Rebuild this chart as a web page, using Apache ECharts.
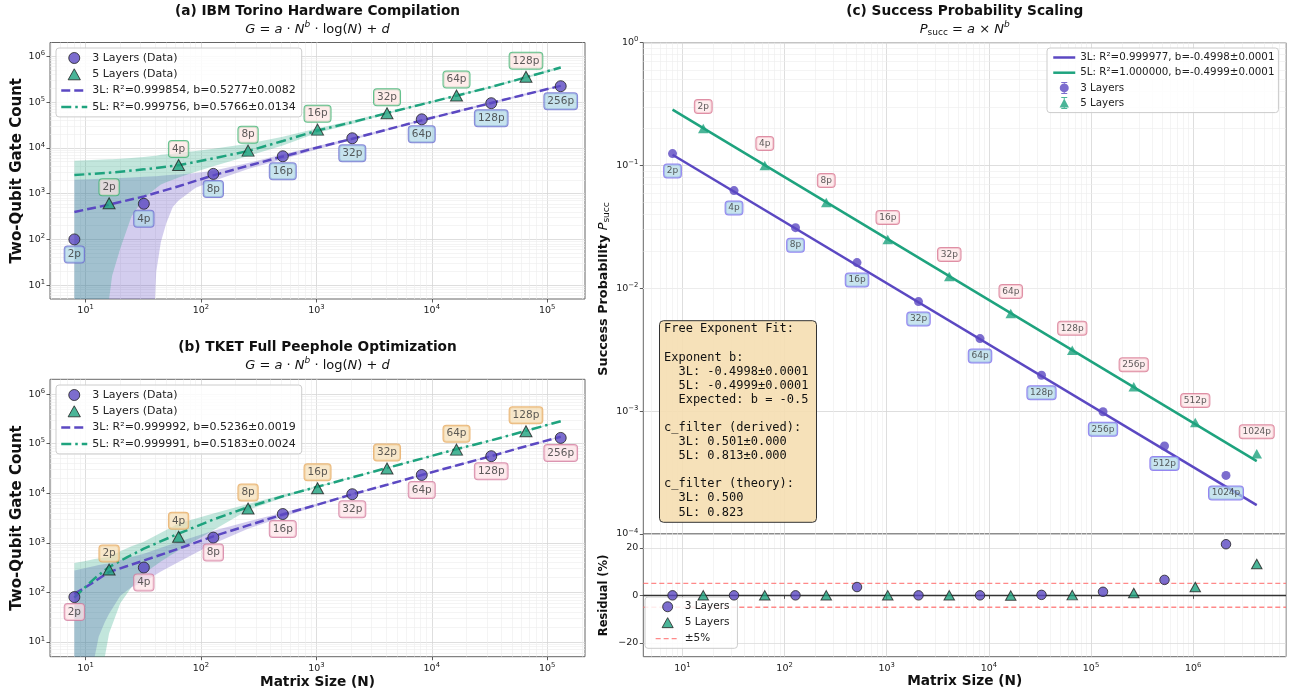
<!DOCTYPE html>
<html>
<head>
<meta charset="utf-8">
<title>Gate count and success probability scaling</title>
<script src="https://cdn.jsdelivr.net/npm/echarts@6/dist/echarts.min.js"></script>
<style>
  html, body { margin: 0; padding: 0; background: #fff; }
  #chart { width: 1293px; height: 693px; }
</style>
</head>
<body>
<div id="chart"></div>
<script>
// matrix sizes N and their qubit tags, panels (a) and (b)
const n3 = [8, 32, 128, 512, 2048, 8192, 32768, 131072];
const n5 = [16, 64, 256, 1024, 4096, 16384, 65536];
const tags3 = ['2p', '4p', '8p', '16p', '32p', '64p', '128p', '256p'];
const tags5 = ['2p', '4p', '8p', '16p', '32p', '64p', '128p'];

// (a) IBM Torino two-qubit gate counts
const torino3 = [100, 600, 2700, 6550, 16200, 42000, 94500, 222000];
const torino5 = [615, 4230, 8700, 25000, 57000, 139000, 356000];
const fitNa = [8, 16, 32, 64, 128, 256, 512, 1024, 2048, 4096, 8192, 16384, 32768, 65536, 131072];
const torinoFit3 = [398, 575, 870, 1450, 2510, 4070, 6460, 10200, 15800, 25100, 39800, 61700, 95500, 148000, 226000];
const torinoFit5 = [2550, 2860, 3390, 4170, 5890, 8510, 14100, 24000, 36300, 57500, 89100, 138000, 214000, 347000, 569000];
// confidence bands (5 = below the axis)
const bandNa = [8, 16, 17, 20, 25, 32, 40, 41, 45, 50, 57, 64, 90, 128, 256, 512, 1024, 2048, 4096, 8192, 16384, 32768, 65536, 131072];
const torinoHi3 = [2000, 2140, 2140, 2190, 2240, 2340, 2400, 2400, 2450, 2510, 2570, 2630, 2820, 3160, 4680, 7240, 11000, 16600, 26300, 41700, 64600, 100000, 155000, 234000];
const torinoLo3 = [5, 5, 5, 5, 5, 5, 5, 20, 89, 224, 513, 708, 1350, 1900, 3470, 5620, 9330, 14800, 24000, 38000, 58900, 91200, 141000, 219000];
const torinoHi5 = [5250, 5620, 5620, 5750, 6030, 6310, 6760, 6760, 7080, 7240, 7410, 7760, 8510, 9550, 12300, 17400, 26900, 39800, 60300, 93300, 145000, 224000, 363000, 603000];
const torinoLo5 = [5, 5, 16, 63, 316, 794, 1260, 1320, 1590, 1780, 2000, 2240, 3020, 3980, 6610, 11200, 21400, 33100, 55000, 85100, 132000, 204000, 331000, 537000];

// (b) TKET two-qubit gate counts
const tket3 = [80, 316, 1270, 3800, 9550, 23400, 56000, 131000];
const tket5 = [287, 1320, 4900, 12600, 31500, 76000, 178000];
const fitNb = [8, 10, 12, 16, 23, 32, 64, 128, 256, 512, 1024, 2048, 4096, 8192, 16384, 32768, 65536, 131072];
const tketFit3 = [93, 126, 166, 257, 339, 437, 759, 1350, 2240, 3720, 5890, 9550, 14800, 23400, 36300, 56200, 89100, 138000];
const tketFit5 = [78, 129, 191, 324, 513, 759, 1530, 2950, 5250, 8710, 13500, 20900, 32400, 50100, 77600, 117000, 182000, 285000];
const bandNb = [8, 10, 12, 13, 14.7, 16, 20, 25, 32, 45, 64, 128, 256, 512, 1024, 2048, 4096, 8192, 16384, 32768, 65536, 131072];
const tketHi3 = [275, 309, 339, 355, 372, 380, 447, 513, 603, 794, 1050, 1740, 2690, 4070, 6170, 9890, 15100, 24000, 37200, 57500, 91200, 141000];
const tketLo3 = [5, 5, 5, 12.6, 25, 37, 85, 126, 162, 263, 407, 955, 1910, 3310, 5620, 9230, 14500, 22900, 35500, 55000, 87100, 135000];
const tketHi5 = [389, 427, 468, 479, 501, 513, 676, 851, 1050, 1590, 2450, 3890, 6030, 9330, 14000, 21400, 33100, 51300, 79400, 120000, 186000, 292000];
const tketLo5 = [5, 5, 5, 5, 5, 14.8, 60, 126, 240, 417, 708, 1780, 4570, 8130, 13000, 20400, 31600, 49000, 75900, 115000, 178000, 279000];

// (c) success probability and residuals
const nC3 = [8, 32, 128, 512, 2048, 8192, 32768, 131072, 524288, 2097152];
const nC5 = [16, 64, 256, 1024, 4096, 16384, 65536, 262144, 1048576, 4194304];
const tagsC = ['2p', '4p', '8p', '16p', '32p', '64p', '128p', '256p', '512p', '1024p'];
const psucc3 = [0.125, 0.0625, 0.0312, 0.0162, 0.0078, 0.0039, 0.00196, 0.00099, 0.00052, 0.0003];
const psucc5 = [0.2, 0.1, 0.05, 0.025, 0.0125, 0.00625, 0.00313, 0.00158, 0.00081, 0.00045];
const fitNc = [8, 4194304];
const psuccFit3 = [0.1225, 0.000172];
const psuccFit5 = [0.285, 0.000392];
const resid3 = [0, 0, 0, 3.5, 0, 0, 0.2, 1.5, 6.5, 21.5];
const resid5 = [0, 0, 0, 0, 0, -0.1, 0.1, 1.0, 3.5, 13.2];

// tick labels
const ticksXab = [10, 100, 1000, 10000, 100000];
const ticksYab = [10, 100, 1000, 10000, 100000, 1000000];
const ticksXc = [10, 100, 1000, 10000, 100000, 1000000];
const ticksYc = [0.0001, 0.001, 0.01, 0.1, 1];
const ticksRes = [-20, 0, 20];

const fitA3 = '3L: R²=0.999854, b=0.5277±0.0082';
const fitA5 = '5L: R²=0.999756, b=0.5766±0.0134';
const fitB3 = '3L: R²=0.999992, b=0.5236±0.0019';
const fitB5 = '5L: R²=0.999991, b=0.5183±0.0024';
const fitC3 = '3L: R²=0.999977, b=-0.4998±0.0001';
const fitC5 = '5L: R²=1.000000, b=-0.4999±0.0001';

const boxText = [
  'Free Exponent Fit:', '',
  'Exponent b:',
  '  3L: -0.4998±0.0001',
  '  5L: -0.4999±0.0001',
  '  Expected: b = -0.5', '',
  'c_filter (derived):',
  '  3L: 0.501±0.000',
  '  5L: 0.813±0.000', '',
  'c_filter (theory):',
  '  3L: 0.500',
  '  5L: 0.823'
].join('\n');

const PURPLE = '#5b48c2';
const GREEN = '#1ea37e';
const xMinAB = 4.92, xMaxAB = 212800, yMinAB = 5, yMaxAB = 2e6;
const xMinC = 4.14, xMaxC = 8.11e6;

var chart = echarts.init(document.getElementById('chart'));

function zip(xs, ys, tags) {
  return xs.map(function (x, i) { return tags ? [x, ys[i], tags[i]] : [x, ys[i]]; });
}

function minorLog(lo, hi) {
  var out = [];
  for (var e = Math.floor(Math.log10(lo)); e <= Math.ceil(Math.log10(hi)); e++) {
    for (var k = 2; k <= 9; k++) {
      var v = k * Math.pow(10, e);
      if (v > lo && v < hi) out.push(v);
    }
  }
  return out;
}

function powLabel(v) {
  var e = Math.round(Math.log10(v));
  return '10{s|' + (e < 0 ? '−' + (-e) : e) + '}';
}
var powRich = { s: { fontSize: 6.8, color: '#222', padding: [0, 0, 6, 0] } };

function logAxis(gi, min, max, ticks, showLabel) {
  return {
    type: 'log', logBase: 10, gridIndex: gi, min: min, max: max,
    axisLine: { show: false },
    axisTick: { show: showLabel, customValues: ticks, length: 3.5, lineStyle: { color: '#333', width: 0.8 } },
    axisLabel: { show: showLabel, customValues: ticks, formatter: powLabel, fontSize: 9.5, color: '#222', margin: 5, rich: powRich },
    splitLine: { show: true, lineStyle: { color: '#d6d6d6', width: 0.8 } },
    minorTick: { show: false }, minorSplitLine: { show: false }
  };
}

function gridLines(gi, xs, ys, color, width, z) {
  return {
    type: 'line', xAxisIndex: gi, yAxisIndex: gi, data: [], symbol: 'none', silent: true, z: z || 1,
    markLine: {
      z: z || 1, silent: true, symbol: ['none', 'none'], animation: false, label: { show: false },
      lineStyle: { color: color, width: width, type: 'solid' },
      emphasis: { disabled: true },
      data: xs.map(function (v) { return { xAxis: v }; }).concat(ys.map(function (v) { return { yAxis: v }; }))
    }
  };
}

function band(gi, ns, hi, lo, color) {
  return {
    type: 'custom', xAxisIndex: gi, yAxisIndex: gi, silent: true, z: 2,
    data: [[ns[0], hi[0]]],
    renderItem: function (params, api) {
      var pts = [];
      for (var i = 0; i < ns.length; i++) pts.push(api.coord([ns[i], hi[i]]));
      for (var j = ns.length - 1; j >= 0; j--) pts.push(api.coord([ns[j], lo[j]]));
      return { type: 'polygon', shape: { points: pts }, style: { fill: color } };
    }
  };
}

function fitLine(gi, name, ns, vals, color, dash) {
  return {
    type: 'line', name: name, xAxisIndex: gi, yAxisIndex: gi, data: zip(ns, vals),
    symbol: 'none', silent: true, z: 4,
    itemStyle: { color: color },
    lineStyle: { color: color, width: 2.5, type: dash }
  };
}

function tag(dy, bg, border, size, pad) {
  return {
    show: true, position: 'inside', offset: [0, dy],
    formatter: function (p) { return p.data[2]; },
    fontSize: size, color: '#333', textBorderWidth: 0,
    backgroundColor: bg, borderColor: border, borderWidth: 1, borderRadius: 3, padding: pad
  };
}

function dots(gi, name, ns, vals, tags, symbol, size, color, edge, label) {
  return {
    type: 'scatter', name: name, xAxisIndex: gi, yAxisIndex: gi,
    data: zip(ns, vals, tags), symbol: symbol, symbolSize: size, silent: true, z: 10,
    itemStyle: edge ? { color: color, borderColor: '#222', borderWidth: 1 } : { color: color, borderWidth: 0 },
    label: label || { show: false }
  };
}

function gtext(x, y, text, font, extra) {
  return {
    type: 'text', x: x, y: y, z: 100, silent: true,
    style: Object.assign({ text: text, font: font, fill: '#111', align: 'center', verticalAlign: 'middle', textAlign: 'center', textVerticalAlign: 'middle' }, extra || {})
  };
}

var mathRich = {
  i: { fontStyle: 'italic', fontSize: 13, fontFamily: 'DejaVu Sans', fill: '#111' },
  p: { fontStyle: 'italic', fontSize: 9, fontFamily: 'DejaVu Sans', padding: [0, 0, 10, 0], fill: '#111' },
  q: { fontSize: 9, fontFamily: 'DejaVu Sans', padding: [6, 0, 0, 0], fill: '#111' }
};
var formulaG = '{i|G} = {i|a} · {i|N}{p|b} · log({i|N}) + {i|d}';
var formulaP = '{i|P}{q|succ} = {i|a} × {i|N}{p|b}';

var boldTitle = 'bold 13.7px "DejaVu Sans"';
var axisTitle = 'bold 15px "DejaVu Sans"';

// legend icons
var dotIcon = 'path://M0,5A5,5,0,1,1,10,5A5,5,0,1,1,0,5Z';
var triIcon = 'path://M5,0L10,9L0,9Z';
var errCircle = 'path://M2,0H8V1H5.5V11H8V12H2V11H4.5V1H2Z M0.5,6A4.5,4.5,0,1,1,9.5,6A4.5,4.5,0,1,1,0.5,6Z';
var errTriangle = 'path://M2,0H8V1H5.5V11H8V12H2V11H4.5V1H2Z M5,1.5L9.7,10.5L0.3,10.5Z';
var edged = { borderColor: '#222', borderWidth: 1 };

function legendBox(left, top, iw, ih, gap, pad, font, lh, z, data) {
  return {
    orient: 'vertical', left: left, top: top, itemWidth: iw, itemHeight: ih, itemGap: gap,
    padding: pad, selectedMode: false, symbolKeepAspect: true, z: z,
    backgroundColor: 'rgba(255,255,255,0.85)', borderColor: '#cccccc', borderWidth: 1, borderRadius: 3,
    textStyle: { fontSize: font, lineHeight: lh, color: '#222' },
    data: data
  };
}

var gridBase = { show: true, borderColor: '#666', borderWidth: 1, backgroundColor: 'transparent', containLabel: false, outerBoundsMode: 'none' };

var option = {
  animation: false,
  textStyle: { fontFamily: 'DejaVu Sans' },
  grid: [
    Object.assign({ left: 50, top: 42.5, width: 535, height: 256.5 }, gridBase),
    Object.assign({ left: 50, top: 379.3, width: 535, height: 277.4 }, gridBase),
    Object.assign({ left: 643.3, top: 42.7, width: 642.7, height: 491.3 }, gridBase),
    Object.assign({ left: 643.3, top: 534, width: 642.7, height: 122.7 }, gridBase)
  ],
  xAxis: [
    logAxis(0, xMinAB, xMaxAB, ticksXab, true),
    logAxis(1, xMinAB, xMaxAB, ticksXab, true),
    logAxis(2, xMinC, xMaxC, ticksXc, false),
    logAxis(3, xMinC, xMaxC, ticksXc, true)
  ],
  yAxis: [
    logAxis(0, yMinAB, yMaxAB, ticksYab, true),
    logAxis(1, yMinAB, yMaxAB, ticksYab, true),
    logAxis(2, 1e-4, 1, ticksYc, true),
    {
      type: 'value', gridIndex: 3, min: -25.8, max: 25.8,
      axisLine: { show: false },
      axisTick: { show: true, customValues: ticksRes, length: 3.5, lineStyle: { color: '#333', width: 0.8 } },
      axisLabel: { customValues: ticksRes, fontSize: 9.5, color: '#222', margin: 5,
        formatter: function (v) { return v < 0 ? '−' + (-v) : String(v); } },
      splitLine: { show: false }
    }
  ],
  legend: [
    legendBox(56, 48, 26, 11, 2.3, [3, 6, 3, 4], 11, 14, 20, [
      { name: '3 Layers (Data)', icon: dotIcon, itemStyle: edged },
      { name: '5 Layers (Data)', icon: triIcon, itemStyle: edged },
      { name: fitA3, itemStyle: { opacity: 0 }, lineStyle: { width: 2.5 } },
      { name: fitA5, itemStyle: { opacity: 0 }, lineStyle: { width: 2.5 } }
    ]),
    legendBox(56, 385, 26, 11, 2.3, [3, 6, 3, 4], 11, 14, 20, [
      { name: '3 Layers (Data)', icon: dotIcon, itemStyle: edged },
      { name: '5 Layers (Data)', icon: triIcon, itemStyle: edged },
      { name: fitB3, itemStyle: { opacity: 0 }, lineStyle: { width: 2.5 } },
      { name: fitB5, itemStyle: { opacity: 0 }, lineStyle: { width: 2.5 } }
    ]),
    legendBox(1047, 48, 22, 12, 2.2, [3, 4, 3, 5], 10.3, 13, 20, [
      { name: fitC3, itemStyle: { opacity: 0 }, lineStyle: { width: 2.5 } },
      { name: fitC5, itemStyle: { opacity: 0 }, lineStyle: { width: 2.5 } },
      { name: '3 Layers', icon: errCircle },
      { name: '5 Layers', icon: errTriangle }
    ]),
    // sits above the ±5% lines but under the residual markers
    legendBox(645, 597, 24, 10, 2.4, [3, 8, 3, 10], 10.5, 13.5, 6, [
      { name: '3 Layers', icon: dotIcon, itemStyle: edged },
      { name: '5 Layers', icon: triIcon, itemStyle: edged },
      { name: '±5%', itemStyle: { opacity: 0 }, lineStyle: { width: 1.3 } }
    ])
  ],
  graphic: [
    gtext(317.5, 11, '(a) IBM Torino Hardware Compilation', boldTitle),
    gtext(317.5, 30, formulaG, '13px "DejaVu Sans"', { rich: mathRich }),
    gtext(317.5, 347.3, '(b) TKET Full Peephole Optimization', boldTitle),
    gtext(317.5, 366, formulaG, '13px "DejaVu Sans"', { rich: mathRich }),
    gtext(964.7, 11, '(c) Success Probability Scaling', boldTitle),
    gtext(964.7, 29.3, formulaP, '13px "DejaVu Sans"', { rich: mathRich }),
    Object.assign(gtext(17.3, 170.75, 'Two-Qubit Gate Count', axisTitle), { rotation: Math.PI / 2 }),
    Object.assign(gtext(17.3, 518, 'Two-Qubit Gate Count', axisTitle), { rotation: Math.PI / 2 }),
    Object.assign(gtext(604, 289, 'Success Probability {i|P}{q|succ}', 'bold 12.8px "DejaVu Sans"', {
      rich: {
        i: { fontStyle: 'italic', fontWeight: 'normal', fontSize: 12.8, fontFamily: 'DejaVu Sans', fill: '#111' },
        q: { fontWeight: 'normal', fontSize: 9, fontFamily: 'DejaVu Sans', padding: [6, 0, 0, 0], fill: '#111' }
      }
    }), { rotation: Math.PI / 2 }),
    Object.assign(gtext(604, 595.4, 'Residual (%)', 'bold 11.5px "DejaVu Sans"'), { rotation: Math.PI / 2 }),
    gtext(317.5, 682, 'Matrix Size (N)', 'bold 13.7px "DejaVu Sans"'),
    gtext(964.7, 681.7, 'Matrix Size (N)', 'bold 13.7px "DejaVu Sans"'),
    {
      type: 'rect', z: 90, silent: true,
      shape: { x: 659.5, y: 320.7, width: 157, height: 201.6, r: 4 },
      style: { fill: 'rgba(245,222,179,0.92)', stroke: '#333', lineWidth: 1 }
    },
    {
      type: 'text', z: 91, silent: true, x: 664, y: 322.3,
      style: { text: boxText, font: '12px "DejaVu Sans Mono"', fill: '#111', lineHeight: 14.08,
        align: 'left', verticalAlign: 'top', textAlign: 'left', textVerticalAlign: 'top' }
    }
  ],
  series: [
    // (a)
    gridLines(0, minorLog(xMinAB, xMaxAB), minorLog(yMinAB, yMaxAB), '#ededed', 0.6),
    band(0, bandNa, torinoHi3, torinoLo3, 'rgba(91,72,194,0.27)'),
    band(0, bandNa, torinoHi5, torinoLo5, 'rgba(30,163,126,0.27)'),
    fitLine(0, fitA3, fitNa, torinoFit3, PURPLE, [9, 4]),
    fitLine(0, fitA5, fitNa, torinoFit5, GREEN, [10, 4, 2.5, 4]),
    dots(0, '3 Layers (Data)', n3, torino3, tags3, 'circle', 11, PURPLE, true,
      tag(15, 'rgba(173,216,230,0.85)', '#6a6ad0', 10.5, [2.5, 3])),
    dots(0, '5 Layers (Data)', n5, torino5, tags5, 'triangle', [12, 11], GREEN, true,
      tag(-16, 'rgba(255,228,225,0.85)', '#3cb371', 10.5, [2.5, 3])),
    // (b)
    gridLines(1, minorLog(xMinAB, xMaxAB), minorLog(yMinAB, yMaxAB), '#ededed', 0.6),
    band(1, bandNb, tketHi3, tketLo3, 'rgba(91,72,194,0.27)'),
    band(1, bandNb, tketHi5, tketLo5, 'rgba(30,163,126,0.27)'),
    fitLine(1, fitB3, fitNb, tketFit3, PURPLE, [9, 4]),
    fitLine(1, fitB5, fitNb, tketFit5, GREEN, [10, 4, 2.5, 4]),
    dots(1, '3 Layers (Data)', n3, tket3, tags3, 'circle', 11, PURPLE, true,
      tag(15, 'rgba(253,226,230,0.85)', '#d27a9e', 10.5, [2.5, 3])),
    dots(1, '5 Layers (Data)', n5, tket5, tags5, 'triangle', [12, 11], GREEN, true,
      tag(-16, 'rgba(245,222,179,0.85)', '#e6a85c', 10.5, [2.5, 3])),
    // (c)
    gridLines(2, minorLog(xMinC, xMaxC), minorLog(1e-4, 1), '#ededed', 0.6),
    fitLine(2, fitC3, fitNc, psuccFit3, PURPLE, 'solid'),
    fitLine(2, fitC5, fitNc, psuccFit5, GREEN, 'solid'),
    dots(2, '3 Layers', nC3, psucc3, tagsC, 'circle', 9, PURPLE, false,
      tag(17.5, 'rgba(173,216,230,0.85)', '#7b68ee', 9, [2, 2.7])),
    dots(2, '5 Layers', nC5, psucc5, tagsC, 'triangle', [10.5, 9.5], GREEN, false,
      tag(-22, 'rgba(253,228,230,0.85)', '#d7738f', 9, [2, 2.7])),
    // residuals
    gridLines(3, minorLog(xMinC, xMaxC), [], '#ededed', 0.6),
    gridLines(3, [], [-20, 20], '#dcdcdc', 0.8),
    gridLines(3, [], [0], '#333333', 1.3, 5),
    {
      type: 'line', name: '±5%', xAxisIndex: 3, yAxisIndex: 3, data: [[xMinC, 5], [xMaxC, 5]],
      symbol: 'none', silent: true, z: 4, itemStyle: { color: '#ff6b6b' },
      lineStyle: { color: '#ff6b6b', width: 1.3, type: [5, 3], opacity: 0.8 }
    },
    {
      type: 'line', name: '±5%', xAxisIndex: 3, yAxisIndex: 3, data: [[xMinC, -5], [xMaxC, -5]],
      symbol: 'none', silent: true, z: 4, itemStyle: { color: '#ff6b6b' },
      lineStyle: { color: '#ff6b6b', width: 1.3, type: [5, 3], opacity: 0.8 }
    },
    dots(3, '3 Layers', nC3, resid3, null, 'circle', 9.5, PURPLE, true),
    dots(3, '5 Layers', nC5, resid5, null, 'triangle', [10.5, 9.5], GREEN, true)
  ]
};

chart.setOption(option);
</script>
</body>
</html>
